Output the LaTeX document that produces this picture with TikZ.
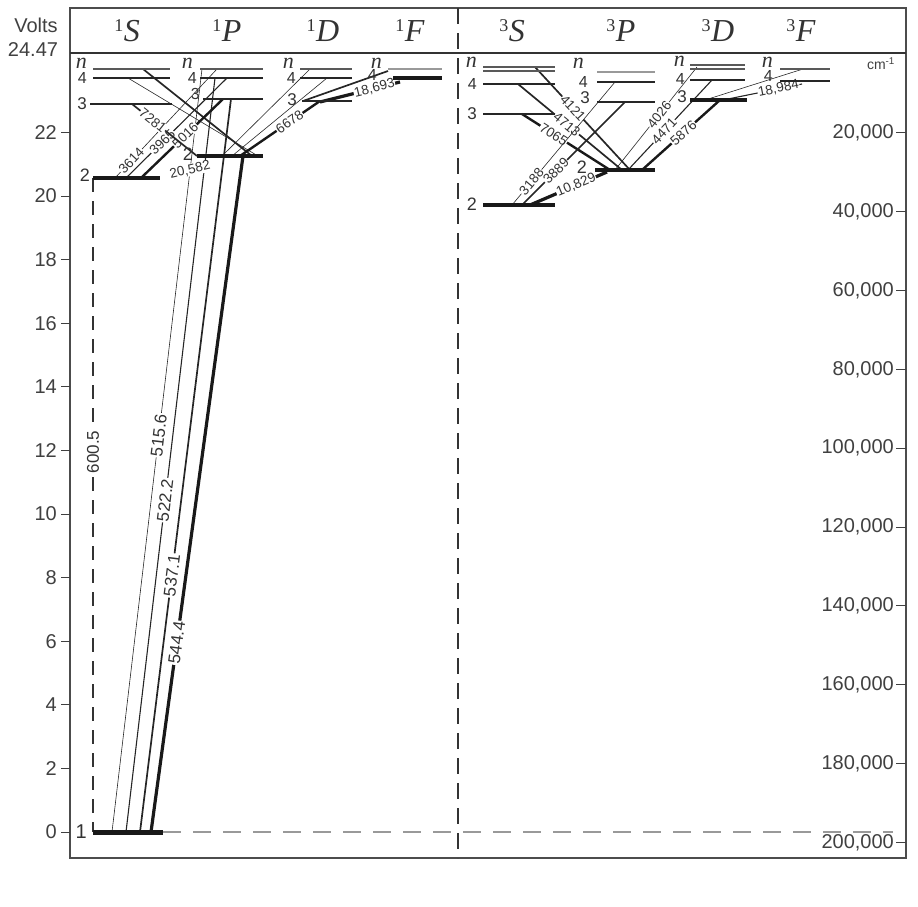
\documentclass[tikz,border=0pt]{standalone}
\usepackage{fontspec}
\setmainfont{Liberation Sans}
\newfontfamily\serf{Liberation Serif}
\newcommand{\myfs}[1]{\fontsize{#1}{#1}\selectfont}
\newcommand{\hdrlab}[2]{{\serf\myfs{32}\raisebox{10pt}{\myfs{18}#1}\kern0.5pt\textit{#2}}}
\newcommand{\lvn}{{\serf\myfs{22}\itshape n}}
\begin{document}
\begin{tikzpicture}[x=1pt,y=-1pt,
 every node/.style={text=black!80},
 lvN/.style={line width=1.4pt, black!65},
 lv4/.style={line width=1.8pt, black!85},
 lv3/.style={line width=2.8pt, black!85},
 lv2/.style={line width=3.6pt, black!90},
 lv1/.style={line width=5pt, black!90},
 trA/.style={line width=0.6pt, black!85},
 trB/.style={line width=1.1pt, black!85},
 trC/.style={line width=1.7pt, black!85},
 trD/.style={line width=2.4pt, black!90},
 trE/.style={line width=3.2pt, black!90},
 tlab/.style={font=\myfs{13.5}, fill=white, inner sep=0.6pt, sloped},
 blab/.style={font=\myfs{17}, fill=white, inner sep=1pt, sloped},
 llab/.style={anchor=east, inner sep=1pt},
 axl/.style={anchor=east, inner sep=0pt, font=\myfs{20}, text=black!75},
 tick/.style={line width=1pt, black!75},
]
\useasboundingbox (0,0) rectangle (918,906);

% ---------- frame ----------
\draw[line width=1.2pt, black!70] (70,8) rectangle (906,858);
\draw[line width=1.2pt, black!80] (70,53) -- (906,53);
\draw[dash pattern=on 16pt off 9pt, line width=1.3pt, black!80] (458,8) -- (458,858);
\draw[dash pattern=on 18pt off 12pt, line width=2pt, black!40] (163,832) -- (893,832);

% ---------- axes ----------
\node[font=\myfs{20}, text=black!75] (volts) at (36,25) {Volts};
\node[font=\myfs{20}, text=black!75] (vtop) at (33,50) {24.47};
\foreach \v in {0,2,...,22}{
  \pgfmathsetmacro{\yy}{832-31.8*\v}
  \draw[tick] (61,\yy) -- (70,\yy);
  \node[axl] (vl\v) at (57,\yy) {\v};
}
\foreach \k in {20,40,...,200}{
  \pgfmathsetmacro{\yy}{54+\k*3.9427}
  \draw[tick] (896,\yy) -- (906,\yy);
  \node[axl] (cl\k) at (894,\yy) {\k,000};
}
\node[font=\myfs{14}, text=black!75] (cmlab) at (881,64) {cm\textsuperscript{-1}};

% ---------- headers ----------
\node (h1S) at (127,31) {\hdrlab{1}{S}};
\node (h1P) at (227,31) {\hdrlab{1}{P}};
\node (h1D) at (323,31) {\hdrlab{1}{D}};
\node (h1F) at (410,31) {\hdrlab{1}{F}};
\node (h3S) at (512,31) {\hdrlab{3}{S}};
\node (h3P) at (621,31) {\hdrlab{3}{P}};
\node (h3D) at (718,31) {\hdrlab{3}{D}};
\node (h3F) at (801,31) {\hdrlab{3}{F}};

% ---------- singlet transitions ----------
% ground -> 1P
\draw[trA] (112,832) -- (202,69) node[blab,pos=0.52] (t5156) {515.6};
\draw[trB] (126,832) -- (215,78) node[blab,pos=0.44] (t5222) {522.2};
\draw[trC] (140,832) -- (231,99) node[blab,pos=0.35] (t5371) {537.1};
\draw[trE] (151,832) -- (243,156) node[blab,pos=0.28] (t5444) {544.4};
% 2 1S -> ground (dashed)
\draw[dash pattern=on 14pt off 9pt, line width=1.2pt, black!80] (93,178) -- (93,832);
\node[font=\myfs{17}, fill=white, inner sep=1pt, rotate=90] (t6005) at (93,452) {600.5};
% 1S -> 2 1P
\draw[trC] (143,69) -- (252,156);
\draw[trA] (128,78) -- (258,156);
% 1D -> 2 1P
\draw[trA] (310,69) -- (222,156);
\draw[trA] (327,78) -- (232,156);
\draw[trD] (320,101) -- (240,156) node[tlab,pos=0.38] (t6678) {6678};
% 1P -> 2 1S
\draw[trA] (217,69) -- (115,178) node[tlab,pos=0.84] (t3614) {3614};
\draw[trB] (227,78) -- (126,178) node[tlab,pos=0.64] (t3965) {3965};
\draw[trD] (223,99) -- (141,178) node[tlab,pos=0.46] (t5016) {5016};
% 3 1S -> 2 1P
\draw[trC] (132,104) -- (197,156) node[tlab,pos=0.32] (t7281) {7281};
% 1F -> 3 1D
\draw[trC] (388,71) -- (303,101);
\draw[trE] (400,82) -- (320,102) node[tlab,pos=0.32] (t18693) {18,693};
\node[font=\myfs{13.5}, fill=white, inner sep=0.6pt, rotate=13] (t20582) at (190,170) {20,582};

% ---------- triplet transitions ----------
\draw[trC] (535,67) -- (630,170) node[tlab,pos=0.4] (t4121) {4121};
\draw[trC] (518,84) -- (622,170) node[tlab,pos=0.47] (t4713) {4713};
\draw[trD] (522,114) -- (610,170) node[tlab,pos=0.36] (t7065) {7065};
\draw[trA] (512,205) -- (615,82) node[tlab,pos=0.19] (t3188) {3188};
\draw[trC] (522,205) -- (625,102) node[tlab,pos=0.33] (t3889) {3889};
\draw[trE] (530,205) -- (607,172) node[tlab,pos=0.6] (t10829) {10,829};
\draw[trA] (697,67) -- (615,170) node[tlab,pos=0.46] (t4026) {4026};
\draw[trB] (712,80) -- (628,170) node[tlab,pos=0.57] (t4471) {4471};
\draw[trD] (720,100) -- (642,170) node[tlab,pos=0.47] (t5876) {5876};
\draw[trA] (803,69) -- (705,100);
\draw[trB] (802,84) -- (718,101) node[tlab,pos=0.28] (t18984) {18,984};

% ---------- levels ----------
% 1S
\draw[lvN] (93,69) -- (170,69);
\draw[lv4] (93,78) -- (170,78);
\draw[lv3] (90,104) -- (172,104);
\draw[lv2] (93,178) -- (160,178);
\draw[lv1] (93,832) -- (163,832);
% 1P
\draw[lvN] (200,69) -- (263,69);
\draw[lv4] (200,78) -- (263,78);
\draw[lv3] (203,99) -- (263,99);
\draw[lv2] (197,156) -- (263,156);
% 1D
\draw[lvN] (300,69) -- (352,69);
\draw[lv4] (300,78) -- (352,78);
\draw[lv3] (302,101) -- (352,101);
% 1F
\draw[lvN, black!40] (388,69) -- (442,69);
\draw[line width=4pt, black!90] (393,78) -- (442,78);
% 3S
\draw[lvN] (483,67) -- (555,67);
\draw[lvN] (483,71) -- (555,71);
\draw[lv4] (483,84) -- (555,84);
\draw[lv3] (483,114) -- (555,114);
\draw[lv2] (483,205) -- (555,205);
% 3P
\draw[lvN, black!40] (597,72) -- (655,72);
\draw[lv4] (597,82) -- (655,82);
\draw[lv3] (597,102) -- (655,102);
\draw[lv2] (595,170) -- (655,170);
% 3D
\draw[lvN] (690,65) -- (745,65);
\draw[lvN] (690,69) -- (745,69);
\draw[lv4] (690,80) -- (745,80);
\draw[line width=3.6pt, black!90] (690,100) -- (747,100);
% 3F
\draw[lvN] (780,69) -- (830,69);
\draw[lv4] (780,81) -- (830,81);

% ---------- level labels ----------
\node[llab] (n1S) at (88,63) {\lvn};
\node[llab, font=\myfs{16}] (f1S) at (88,78) {4};
\node[llab, font=\myfs{17}] (th1S) at (88,104) {3};
\node[llab, font=\myfs{18}] (tw1S) at (91,175) {2};
\node[llab, font=\myfs{20}] (o1S) at (88,832) {1};
\node[llab] (n1P) at (194,63) {\lvn};
\node[llab, font=\myfs{16}] (f1P) at (198,78) {4};
\node[llab, font=\myfs{16}] (th1P) at (201,94) {3};
\node[llab, font=\myfs{18}] (tw1P) at (194,154) {2};
\node[llab] (n1D) at (295,63) {\lvn};
\node[llab, font=\myfs{16}] (f1D) at (297,78) {4};
\node[llab, font=\myfs{17}] (th1D) at (298,100) {3};
\node[llab] (n1F) at (383,63) {\lvn};
\node[llab, font=\myfs{16}] (f1F) at (378,75) {4};
\node[llab] (n3S) at (478,62) {\lvn};
\node[llab, font=\myfs{16}] (f3S) at (478,84) {4};
\node[llab, font=\myfs{17}] (th3S) at (478,114) {3};
\node[llab, font=\myfs{18}] (tw3S) at (478,204) {2};
\node[llab] (n3P) at (585,63) {\lvn};
\node[llab, font=\myfs{16}] (f3P) at (589,82) {4};
\node[llab, font=\myfs{17}] (th3P) at (591,98) {3};
\node[llab, font=\myfs{18}] (tw3P) at (588,167) {2};
\node[llab] (n3D) at (686,61) {\lvn};
\node[llab, font=\myfs{16}] (f3D) at (686,79) {4};
\node[llab, font=\myfs{17}] (th3D) at (688,97) {3};
\node[llab] (n3F) at (774,62) {\lvn};
\node[llab, font=\myfs{16}] (f3F) at (774,76) {4};
\end{tikzpicture}
\end{document}
